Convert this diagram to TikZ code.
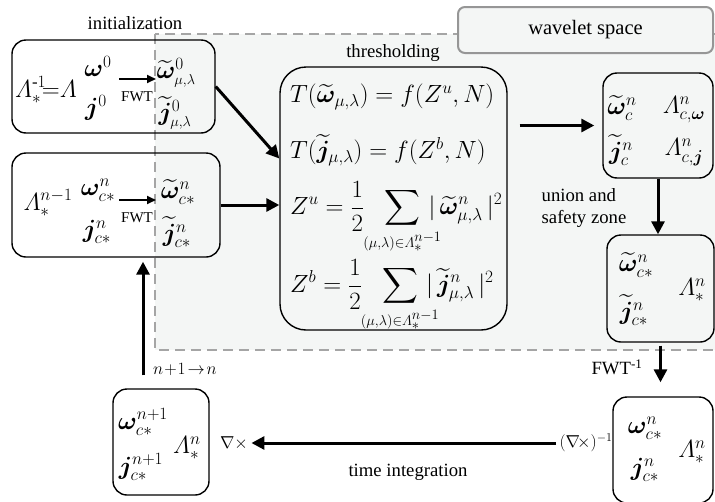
\documentclass[tikz,border=0pt]{standalone}
\usepackage{amsmath}
\usepackage{bm}
\usepackage{fontspec}
\setmainfont{Liberation Serif}
\usetikzlibrary{arrows.meta}

\definecolor{regionfill}{RGB}{244,246,245}
\definecolor{dashgray}{RGB}{165,165,165}
\definecolor{labelgray}{RGB}{150,150,150}

\newcommand{\wvec}{\bm{\omega}}
\newcommand{\jvec}{\bm{j}}
\newcommand{\wtil}{\widetilde{\bm{\omega}}}
\newcommand{\jtil}{\widetilde{\bm{j}}}
\newcommand{\mula}{\mu,\lambda}
\newcommand{\smula}{\scriptscriptstyle\mu,\lambda}
\newcommand{\LamS}{\varLambda}
\newcommand{\sumset}{\sum\limits_{\makebox[0pt]{$\scriptscriptstyle(\mu,\lambda)\in\LamS_*^{n-1}$}}}

\begin{document}
\begin{tikzpicture}[x=1pt, y=-1pt]
    % Define styles
    \tikzset{
        box/.style={
            draw,
            rounded corners=14pt,
            line width=1.4pt,
            inner sep=0pt
        },
        region/.style={
            draw=dashgray,
            fill=regionfill,
            line width=2.4pt,
            dash pattern=on 10pt off 6pt
        },
        spacebox/.style={
            draw=labelgray,
            fill=regionfill,
            rounded corners=7pt,
            line width=2pt,
            minimum width=255pt,
            minimum height=46pt
        },
        txt/.style={font=\fontsize{18.7}{22}\selectfont},
        small/.style={font=\fontsize{15}{18}\selectfont, inner sep=1pt},
        mth/.style={font=\fontsize{27}{30}\selectfont, inner sep=0pt},
        eq/.style={font=\fontsize{27}{30}\selectfont, inner sep=0pt},
        flow/.style={line width=3pt, -{Triangle[length=13pt,width=13pt]}},
        fwtarrow/.style={line width=2pt, -{Triangle[length=9pt,width=8pt]}}
    }
    \useasboundingbox (0,0) rectangle (715,501);

    % Wavelet space
    \path[region] (155,34) rectangle (745,350);
    \node[spacebox, font=\fontsize{20.5}{24}\selectfont] (space) at (585.5,30) {wavelet space};

    % Initialization
    \node[txt] (initLabel) at (135,23) {initialization};
    \node[box, minimum width=203pt, minimum height=93pt] (init) at (113.5,86.5) {};
    \node[mth, font=\fontsize{24}{28}\selectfont] (lamInit) at (46,90) {$\LamS_*^{\text{-}1}\!{=}\LamS$};
    \node[mth] (wInit) at (98,66) {$\wvec^0$};
    \node[mth] (jInit) at (96,108) {$\jvec^0$};
    \coordinate (fwtA1) at (119,79);
    \coordinate (fwtB1) at (156,79);
    \draw[fwtarrow] (fwtA1) -- (fwtB1);
    \node[small] (fwt1) at (137,97) {FWT};
    \node[mth] (wtInit) at (176,73) {$\wtil^0_{\smula}$};
    \node[mth] (jtInit) at (175,113) {$\jtil^0_{\smula}$};

    % Previous step
    \node[box, minimum width=208pt, minimum height=104pt] (prev) at (116,205) {};
    \node[mth] (lamPrev) at (48,203) {$\LamS_*^{n-1}$};
    \node[mth] (wPrev) at (98,190) {$\wvec^n_{c*}$};
    \node[mth] (jPrev) at (97,232) {$\jvec^n_{c*}$};
    \coordinate (fwtA2) at (119,200);
    \coordinate (fwtB2) at (156,200);
    \draw[fwtarrow] (fwtA2) -- (fwtB2);
    \node[small] (fwt2) at (137,218) {FWT};
    \node[mth] (wtPrev) at (178,192) {$\wtil^n_{c*}$};
    \node[mth] (jtPrev) at (177,232) {$\jtil^n_{c*}$};

    % Thresholding
    \node[txt] (threshLabel) at (393,53) {thresholding};
    \node[box, rounded corners=26pt, minimum width=227pt, minimum height=263pt] (thresh) at (393.5,198.5) {};
    \node[eq, anchor=west] (eq1) at (290,97) {$T(\wtil_{\mula}) = f(Z^u,N)$};
    \node[eq, anchor=west] (eq2) at (290,150) {$T(\jtil_{\mula}) = f(Z^b,N)$};
    \node[eq, anchor=west] (eq3) at (290,218) {$\displaystyle Z^u = \frac{1}{2}\hspace{16pt}\sumset\hspace{4pt}|\,\wtil^n_{\mula}\,|^2$};
    \node[eq, anchor=west] (eq4) at (290,296) {$\displaystyle Z^b = \frac{1}{2}\hspace{16pt}\sumset\hspace{4pt}|\,\jtil^n_{\mula}\,|^2$};

    % Significant coefficients
    \node[box, minimum width=110pt, minimum height=105pt] (sets) at (658,125.5) {};
    \node[mth] (wtSets) at (622,108) {$\wtil^n_c$};
    \node[mth] (lamW) at (684,110) {$\LamS^n_{c,\bm{\omega}}$};
    \node[mth] (jtSets) at (621,150) {$\jtil^n_c$};
    \node[mth] (lamJ) at (684,152) {$\LamS^n_{c,\bm{j}}$};

    % Union and safety zone
    \node[txt, align=left] (unionLabel) at (584,208) {union and\\safety zone};
    \node[box, minimum width=107pt, minimum height=107pt] (union) at (660.5,288.5) {};
    \node[mth] (wtUnion) at (636,265) {$\wtil^n_{c*}$};
    \node[mth] (jtUnion) at (634,310) {$\jtil^n_{c*}$};
    \node[mth] (lamUnion) at (692,290) {$\LamS^n_*$};

    % Physical space
    \node[txt] (fwtInv) at (617,367) {FWT\textsuperscript{-1}};
    \node[box, minimum width=100pt, minimum height=106pt] (phys) at (663,450) {};
    \node[mth] (wPhys) at (645,428) {$\wvec^n_{c*}$};
    \node[mth] (jPhys) at (645,470) {$\jvec^n_{c*}$};
    \node[mth] (lamPhys) at (692,452) {$\LamS^n_*$};
    \node[txt] (curlInv) at (586,443) {$(\nabla\!\times)^{-1}$};

    % Next step
    \node[box, minimum width=96pt, minimum height=106pt] (next) at (161,442) {};
    \node[mth] (wNext) at (143,422) {$\wvec^{n+1}_{c*}$};
    \node[mth] (jNext) at (141,467) {$\jvec^{n+1}_{c*}$};
    \node[mth] (lamNext) at (187,448) {$\LamS^n_*$};
    \node[txt] (curl) at (234,443) {$\nabla\times$};
    \node[txt] (timeLabel) at (408,472) {time integration};
    \node[txt] (stepLabel) at (185,369) {$n\!+\!1\!\rightarrow\! n$};

    % Connect
    \draw[flow] (init.east) -- ([yshift=40pt]thresh.west);
    \draw[flow] (prev.east) -- (prev.east -| thresh.west);
    \draw[flow, shorten <=12pt, shorten >=8pt] (sets.west -| thresh.east) -- (sets.west);
    \draw[flow] (sets.south) -- (sets.south |- union.north);
    \draw[flow, shorten <=3pt, shorten >=14pt] (union.south) -- (union.south |- phys.north);
    \draw[flow] (curlInv.west) -- (curlInv.west -| curl.east);
    \draw[flow, shorten <=13pt, shorten >=4pt] ([xshift=-18pt]next.north) -- ([xshift=-18pt]next.north |- prev.south);
\end{tikzpicture}
\end{document}
